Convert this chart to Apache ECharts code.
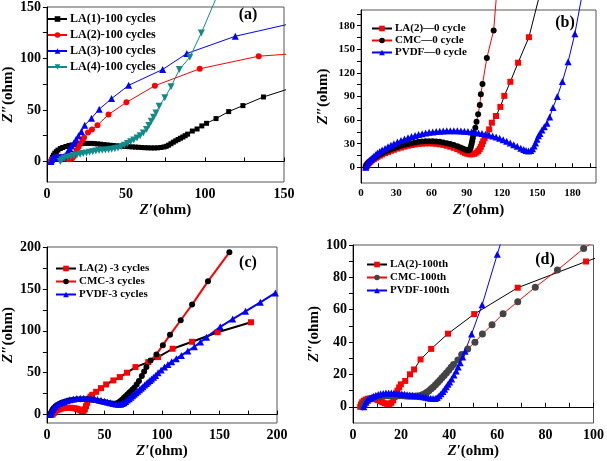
<!DOCTYPE html>
<html><head><meta charset="utf-8">
<script src="https://cdn.jsdelivr.net/npm/echarts@6/dist/echarts.min.js"></script>
<style>html,body{margin:0;padding:0;background:#fff}#c{width:607px;height:461px}</style>
</head><body><div id="c"></div>
<script>
// ---------- Panel (a): 100 cycles ----------
const namesA = ['LA(1)-100 cycles','LA(2)-100 cycles','LA(3)-100 cycles','LA(4)-100 cycles'];
const la1_100 = [[2.5,0],[3,2],[3.5,4],[4.2,6],[5,8],[6,9.5],[7,11],[8.5,12.5],[10,13.5],[12,14.5],[14,15.5],[16,16],[18,16.5],[20,17],[22,17.3],[24,17.5],[26,17.5],[28,17.5],[30,17.3],[32,17],[34,16.7],[36,16.3],[38,16],[40,15.7],[42,15.4],[44,15.1],[46,14.9],[48,14.7],[50,14.5],[52,14.3],[54,14.1],[56,13.9],[58,13.7],[60,13.5],[62,13.3],[64,13.2],[66,13.1],[68,13.1],[70,13.2],[72,13.5],[74,14],[75.5,14.7],[77,15.8],[78.5,17.2],[80,18.7],[81.5,20],[83,21.3],[84.5,22.5],[86,23.7],[87.5,25],[89,26.5],[92,29.5],[95,31.5],[98,34.5],[101,37],[107,41.6],[115,48.4],[124,54.2],[137,62.6],[152,70]];
const la2_100 = [[2.5,0],[3,1.5],[4,2.5],[5,3.2],[6,3.7],[7,4],[8,4.2],[9,4.2],[10,4],[11,3.6],[12,3],[13,2.5],[14,2.2],[15,2.3],[16,3],[17,5],[18,8],[19,11],[20,14],[21,17],[22.5,20.5],[23.5,23.2],[26,28],[28.5,31],[32,35.2],[39,45.5],[50.3,57.4],[68.3,73.5],[96.7,90],[134,102.2],[152,104.2]];
const la3_100 = [[2.5,0],[3,1.5],[3.5,2.8],[4.5,3.8],[5.5,4.3],[6.5,4.5],[7.5,4.5],[8.5,4.3],[9.5,4.2],[10.5,4.5],[11.5,5.5],[12.5,7.5],[13.5,10],[14.5,12.5],[15.5,15],[17,18],[18.5,21.5],[20,25],[21.8,29],[23.9,35.2],[28.2,42],[33.1,50.7],[40.9,61],[51.7,73.9],[73.2,89.3],[88.5,104.8],[119.2,121.6],[152,133]];
const la4_100 = [[8.5,0],[9.5,1.5],[11,3],[13,4],[15,4.8],[17,5.5],[19,6.2],[21,7],[23,7.6],[25,8.2],[27,8.8],[29,9.4],[31,10],[33,10.5],[35,10.9],[37,11.2],[39,11.4],[41,11.7],[43,12.2],[45,13],[47,14.2],[49,15.7],[51,17.3],[53,19],[55,20.8],[57,22.8],[59,25],[61,27.5],[63,31],[64.5,35],[66,39],[67.5,43],[69,47],[71,53.6],[74.6,61.9],[78.5,72.5],[83.8,89.3],[90.4,101.2],[97.7,124.8],[108,162]];

// ---------- Panel (b): 0 cycle ----------
const namesB = ['LA(2)\u20140 cycle','CMC\u20140 cycle','PVDF\u20140 cycle'];
const la2_0 = [[4,0],[4.5,1.5],[5.2,3],[6,4.5],[7,6],[8.2,7.5],[9.5,9],[11,10.5],[12.5,12],[14,13.3],[16,14.8],[18,16.3],[20.5,18],[23,19.5],[25.5,21],[28,22.3],[31,23.8],[34,25.1],[37,26.3],[40,27.4],[43,28.3],[46,29.1],[49,29.7],[52,30.1],[55,30.4],[58,30.5],[61,30.3],[64,29.9],[67,29.3],[70,28.5],[73,27.4],[76,26.2],[79,24.8],[82,23.1],[84.5,21.3],[86.5,19.7],[88.5,18.3],[90.5,17.2],[92.5,16.5],[94.5,16.5],[96.5,17.2],[98.3,18.7],[99.8,20.7],[101,23],[102,26],[103,29.5],[104,33],[105.2,37],[106.3,40],[109.1,48.2],[111.4,56.7],[114.9,65.2],[118.6,76.8],[122,90.8],[127.1,108.7],[133.7,133],[142.9,165.4],[152.5,222]];
const cmc_0 = [[4,0],[4.5,1.8],[5.2,3.5],[6,5],[7,6.7],[8.2,8.3],[9.5,10],[11,11.6],[12.5,13.2],[14,14.6],[16,16.3],[18,17.9],[20.5,19.7],[23,21.4],[25.5,22.9],[28,24.3],[31,25.9],[34,27.3],[37,28.6],[40,29.7],[43,30.7],[46,31.6],[49,32.3],[52,32.8],[55,33.1],[58,33.2],[61,33.1],[64,32.8],[67,32.3],[70,31.6],[73,30.7],[76,29.6],[79,28.3],[82,26.8],[84.5,25.3],[86.5,23.9],[88.5,22.6],[90,21.8],[91.3,21.5],[92.3,22.3],[93,24],[93.6,26.5],[94.1,29.5],[94.6,33],[95.1,37],[95.6,41],[96.1,44],[97.3,50.3],[98.3,58],[99.7,67.4],[101.1,79.3],[102,93],[103.4,105.8],[107.1,139],[112.9,174],[115.5,222]];
const pvdf_0 = [[4,0],[4.5,2],[5.2,4],[6,6],[7,8],[8.2,10],[9.5,12],[11,14],[12.5,16],[14,18],[16,20],[18,22],[20.5,24],[23,26],[25.5,28],[28,30],[31,32],[34,34],[37,35.8],[40,37.4],[43,39],[46,40.4],[49,41.6],[52,42.7],[55,43.6],[58,44.4],[61,45],[64,45.5],[67,45.9],[70,46.2],[73,46.4],[76,46.5],[79,46.5],[82,46.4],[85,46.2],[88,45.9],[91,45.5],[94,45],[97,44.4],[100,43.7],[103,42.9],[106,42],[109,41],[112,39.8],[115,38.4],[118,36.8],[121,35],[124,33],[127,31],[130,28.8],[133,26.6],[136,24.3],[138.5,22.5],[140.5,21.2],[142.5,20.6],[144.5,21.2],[146,23.5],[147.3,27],[148.5,31],[149.8,35.5],[151,40],[152.3,43],[154,47.5],[156,51.5],[158.3,56],[160.6,64],[163.4,75.9],[167.1,90],[171.4,109],[176.3,134.3],[182,169.8],[188,218]];

// ---------- Panel (c): 3 cycles ----------
const namesC = ['LA(2) -3 cycles','CMC-3 cycles','PVDF-3 cycles'];
const la2_3 = [[5,0],[6,2],[7,3.5],[8.5,5],[10,6],[12,7],[14,7.6],[16,8],[18,8.2],[20,8.2],[22,8],[24,7.6],[26,7],[27.5,6.2],[29,5.2],[30.5,4.3],[32,4.5],[33,6.5],[34,10],[35,14],[36.5,18],[38,21.5],[39.4,23.6],[42.8,27.2],[47,31.6],[51.5,36],[57.8,40.8],[63.4,44.8],[69.6,50],[77,56.7],[88.1,62.6],[96.6,68.6],[109.3,78.6],[126.2,86.9],[148.4,98.3],[177.4,110.2]];
const cmc_3 = [[3,0],[3.5,2],[4.2,4],[5,6],[6,8],[7.5,10],[9,11.5],[11,13],[13,14.2],[15,15.2],[17.5,16.2],[20,17],[23,17.7],[26,18.2],[29,18.4],[32,18.5],[35,18.3],[38,18],[41,17.4],[44,16.6],[47,15.8],[50,15],[52.5,14.2],[55,13.5],[57,13],[59,13],[61,13.6],[62.5,14.8],[64,16.3],[65.5,18],[67,20],[68.5,22],[70,24],[71.5,26],[73,28],[74.5,30],[76,32],[78,36],[80,40],[82.5,46],[84.5,51.5],[86.5,56.7],[90.1,64.6],[95.2,71.8],[100.8,82.9],[107,95.2],[116.3,112.6],[126.2,131.3],[140,159],[158.6,193.6]];
const pvdf_3 = [[3,0],[3.5,2],[4.2,4],[5,6],[6,8],[7.5,10],[9,11.7],[11,13.2],[13,14.6],[15,15.7],[17.5,16.8],[20,17.7],[23,18.5],[26,19.1],[29,19.4],[32,19.5],[35,19.4],[38,19.1],[41,18.6],[44,17.9],[47,17],[50,16],[52.5,15.1],[55,14.2],[57.5,13.4],[60,12.8],[62,12.4],[64,12.5],[65.5,13.2],[67,14.3],[68.5,15.7],[70,17.3],[71.5,19],[73,20.8],[74.5,22.6],[76,24.4],[77.5,26.2],[79,28],[80.5,29.8],[82,31.6],[83.5,33.4],[85,35.2],[86.5,37],[88,38.8],[89.5,40.6],[91,42.4],[92.7,44.5],[94.5,46.8],[96.6,50],[99.3,53.3],[102.2,56.7],[105.2,59.8],[108.4,63.1],[112.5,66.8],[116.9,70.6],[122.5,75.8],[128.2,81],[133.5,86.7],[138.8,92.4],[150.7,104.8],[161.5,114],[172.6,123.3],[185.5,134],[198.6,145.2]];

// ---------- Panel (d): 100th ----------
const namesD = ['LA(2)-100th','CMC-100th','PVDF-100th'];
const la2_100th = [[3,0],[3.3,1.5],[3.8,2.8],[4.5,3.8],[5.3,4.5],[6.2,5],[7.2,5.2],[8.2,5.1],[9.2,4.8],[10.2,4.2],[11.2,3.5],[12.2,2.8],[13.2,2.2],[14.2,1.8],[15.2,1.8],[16,2.5],[16.7,4],[17.3,6],[17.9,8],[18.5,10],[19.2,12],[19.9,13.9],[21.7,16],[23.7,20.1],[25.4,23.1],[28.1,29.3],[32.5,35.8],[39.5,45.2],[50.4,57.3],[68.5,73.6],[96.9,89.8],[103,93]];
const cmc_100th = [[4,0],[4.4,1.5],[5,2.8],[5.8,3.8],[6.7,4.6],[7.7,5.2],[8.7,5.7],[9.8,6.1],[11,6.4],[12.2,6.6],[13.4,6.8],[14.6,6.9],[15.8,7],[17,7],[18.2,7],[19.4,6.9],[20.6,6.8],[21.8,6.7],[23,6.6],[24.2,6.6],[25.4,6.6],[26.6,6.7],[27.8,6.9],[28.8,7.4],[29.8,8.1],[30.7,9],[31.6,10],[32.5,11.1],[33.4,12.3],[34.3,13.6],[35.2,15],[36.1,16.4],[37,17.9],[37.9,19.4],[38.8,20.9],[39.8,22.6],[40.8,24.4],[41.8,26.2],[43.6,28.9],[45.2,32.3],[47.7,35.8],[50.7,39.9],[53.8,45],[57.8,50.7],[62.4,57.5],[68.5,65],[75.8,73.9],[85,84.5],[95.9,97.8],[102,104]];
const pvdf_100th = [[4.5,0],[4.9,1.5],[5.4,2.8],[6,4],[6.8,5],[7.6,5.8],[8.5,6.5],[9.5,7.1],[10.5,7.6],[11.5,8],[12.6,8.3],[13.7,8.5],[14.8,8.6],[15.9,8.6],[17,8.5],[18.1,8.3],[19.2,8.1],[20.3,7.9],[21.4,7.7],[22.5,7.5],[23.6,7.3],[24.7,7.1],[25.8,6.9],[26.9,6.7],[28,6.5],[29.1,6.2],[30.2,5.9],[31.3,5.6],[32.3,5.3],[33.3,5.1],[34.2,5.2],[35,5.8],[35.8,6.8],[36.6,8],[37.4,9.4],[38.1,10.9],[38.8,12.4],[39.5,13.9],[40.2,15.4],[41,17.2],[42,19.6],[42.9,22.1],[43.7,24.6],[44.6,27.2],[45.6,30.8],[46.6,34.4],[49.3,45],[53.7,63],[60,94.3],[62,104]];

// ---------- Axis tick labels ----------
const xTicksA = [0,50,100,150], yTicksA = [0,50,100,150];
const xTicksB = [0,30,60,90,120,150,180], yTicksB = [0,30,60,90,120,150,180];
const xTicksC = [0,50,100,150,200], yTicksC = [0,50,100,150,200];
const xTicksD = [0,20,40,60,80,100], yTicksD = [0,20,40,60,80,100];

const FONT = '"Liberation Serif","Times New Roman",serif';
const chart = echarts.init(document.getElementById('c'), null, {renderer:'canvas'});

function minorOf(ticks, max){ // majors plus midpoints
  const step = ticks[1]-ticks[0]; const out=[];
  for(let v=ticks[0]; v<=max+1e-9; v+=step/2) out.push(+v.toFixed(4));
  return out;
}
function nameRich(prime){
  return {
    name: '{i|Z' + prime + '}{b|(ohm)}',
    nameTextStyle: {rich:{
      i:{fontFamily:FONT,fontWeight:'bold',fontStyle:'italic',fontSize:15,color:'#000'},
      b:{fontFamily:FONT,fontWeight:'bold',fontSize:15,color:'#000'}}}
  };
}
function xAx(gi,min,max,ticks,fs,gap){
  return Object.assign({type:'value',gridIndex:gi,min,max,
    nameLocation:'middle',nameGap:gap,
    axisLine:{lineStyle:{color:'#000',width:1}},
    axisTick:{inside:true,length:4,customValues:minorOf(ticks,max),lineStyle:{color:'#000'}},
    axisLabel:{customValues:ticks,color:'#000',fontFamily:FONT,fontWeight:'bold',fontSize:fs,margin:5},
    splitLine:{show:false}}, nameRich('\u2032'));
}
function yAx(gi,min,max,ticks,fs,gap){
  return Object.assign({type:'value',gridIndex:gi,min,max,
    nameLocation:'middle',nameGap:gap,
    axisLine:{lineStyle:{color:'#000',width:1}},
    axisTick:{inside:false,length:4,customValues:minorOf(ticks,max),lineStyle:{color:'#000'}},
    axisLabel:{customValues:ticks,color:'#000',fontFamily:FONT,fontWeight:'bold',fontSize:fs,margin:6},
    splitLine:{show:false}}, nameRich('\u2033'));
}
function ser(name,data,gi,color,lineColor,symbol,size,width,clip,rot){
  return {type:'line',name,data,xAxisIndex:gi,yAxisIndex:gi,symbol,symbolSize:size,
    symbolRotate:rot||0,showAllSymbol:true,clip,animation:false,
    itemStyle:{color,borderWidth:0},lineStyle:{color:lineColor,width},emphasis:{disabled:true}};
}
function leg(names,left,top,fs,gap,w){
  return {data:names,orient:'vertical',left,top,itemWidth:w,itemHeight:7,itemGap:gap,
    textStyle:{fontFamily:FONT,fontWeight:'bold',fontSize:fs,color:'#000',padding:[0,0,0,-2]},
    selectedMode:false};
}
const RED='#ff0000', BLUE='#0000ff', BLACK='#000000', TEAL='#138a8a', GRAY='#444444';

chart.setOption({
  backgroundColor:'#fff',
  animation:false,
  grid:[
    {left:40,top:5,width:244,height:177,show:true,borderColor:'#555',borderWidth:1},
    {left:361,top:10,width:235,height:173,show:true,borderColor:'#555',borderWidth:1},
    {left:40,top:247,width:237,height:176,show:true,borderColor:'#555',borderWidth:1},
    {left:353,top:245,width:243,height:178,show:true,borderColor:'#555',borderWidth:1}
  ],
  xAxis:[xAx(0,0,150,xTicksA,14,21), xAx(1,0,200,xTicksB,11,20), xAx(2,0,200,xTicksC,14,21), xAx(3,0,100,xTicksD,14,21)],
  yAxis:[yAx(0,-20,150,yTicksA,14,26), yAx(1,-20,200,yTicksB,11,30), yAx(2,-10,200,yTicksC,14,26), yAx(3,-10,100,yTicksD,14,30)],
  legend:[leg(namesA,42,8,12,4,19), leg(namesB,366,18,11,1,20), leg(namesC,50,258,11,2,20), leg(namesD,361,254,11,2,20)],
  graphic:[
    {type:'text',x:248,y:15,style:{text:'(a)',font:'bold 16px '+FONT,fill:'#000',textAlign:'center',textVerticalAlign:'middle'}},
    {type:'text',x:565,y:23,style:{text:'(b)',font:'bold 16px '+FONT,fill:'#000',textAlign:'center',textVerticalAlign:'middle'}},
    {type:'text',x:248,y:263,style:{text:'(c)',font:'bold 16px '+FONT,fill:'#000',textAlign:'center',textVerticalAlign:'middle'}},
    {type:'text',x:545,y:260,style:{text:'(d)',font:'bold 16px '+FONT,fill:'#000',textAlign:'center',textVerticalAlign:'middle'}}
  ],
  series:[
    ser(namesA[0],la1_100,0,BLACK,BLACK,'rect',5,1,true),
    ser(namesA[1],la2_100,0,RED,RED,'circle',6,1,true),
    ser(namesA[2],la3_100,0,BLUE,BLUE,'triangle',7,1,true),
    ser(namesA[3],la4_100,0,TEAL,TEAL,'triangle',7,1,false,180),
    ser(namesB[0],la2_0,1,RED,BLACK,'rect',6,1,false),
    ser(namesB[1],cmc_0,1,BLACK,RED,'circle',6,1,false),
    ser(namesB[2],pvdf_0,1,BLUE,BLUE,'triangle',7,1,false),
    ser(namesC[0],la2_3,2,RED,BLACK,'rect',6,2,true),
    ser(namesC[1],cmc_3,2,BLACK,RED,'circle',6,2,true),
    ser(namesC[2],pvdf_3,2,BLUE,BLUE,'triangle',7,2,true),
    ser(namesD[0],la2_100th,3,RED,BLACK,'rect',6,1,true),
    ser(namesD[1],cmc_100th,3,GRAY,RED,'circle',7,1,true),
    ser(namesD[2],pvdf_100th,3,BLUE,BLUE,'triangle',7,1,true)
  ]
});
</script></body></html>
